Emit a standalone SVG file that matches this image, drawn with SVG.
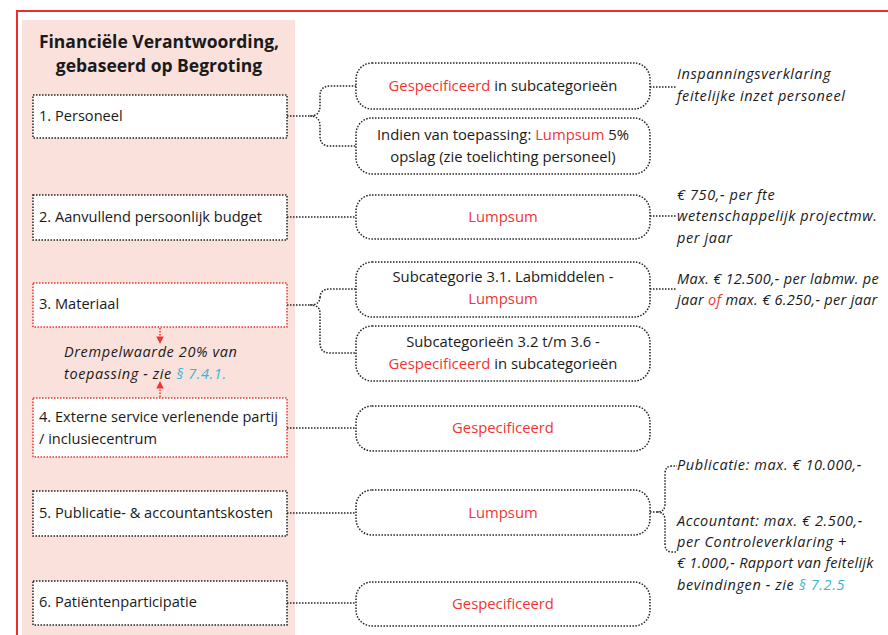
<svg xmlns="http://www.w3.org/2000/svg" width="888" height="635" viewBox="0 0 888 635">
  <defs>
    <style>
      text { font-family: "Open Sans", Lato, "Liberation Sans", sans-serif; fill: #1a1a1a; }
      .title { font-size: 17.5px; font-weight: 700; text-anchor: middle; }
      .lbl { font-size: 14.6px; }
      .mid { font-size: 14.8px; text-anchor: middle; }
      .note { font-size: 14.5px; font-style: italic; letter-spacing: 0.6px; }
      .tight { letter-spacing: 0.3px; }
      .red { fill: #ef3535; }
      .cyan { fill: #36b6d3; }
      .box { fill: #ffffff; stroke: #222; stroke-width: 1.5; stroke-dasharray: 1.5 1.5; }
      .box-red { fill: #ffffff; stroke: #ef3535; stroke-width: 1.5; stroke-dasharray: 1.5 1.5; }
      .pill { fill: #ffffff; stroke: #222; stroke-width: 1.5; stroke-dasharray: 1.5 1.5; }
      .wire { fill: none; stroke: #222; stroke-width: 1.5; stroke-dasharray: 1.5 1.5; }
      .wire-red { fill: none; stroke: #ef3535; stroke-width: 1.5; stroke-dasharray: 1.5 1.5; }
    </style>
    <marker id="redhead" viewBox="0 0 8 8" refX="7" refY="4" markerWidth="5" markerHeight="5" orient="auto">
      <path d="M0,0 L8,4 L0,8 z" fill="#ef3535"/>
    </marker>
  </defs>

  <rect width="888" height="635" fill="#ffffff"/>

  <!-- outer frame -->
  <path d="M17,640 V11 H890" fill="none" stroke="#ef2b2b" stroke-width="2"/>

  <!-- category column -->
  <rect x="22" y="20" width="273" height="620" fill="#fbe1db"/>
  <text class="title" x="159" y="48">Financiële Verantwoording,</text>
  <text class="title" x="159" y="72">gebaseerd op Begroting</text>

  <!-- connectors -->
  <g id="connectors">
    <path class="wire" d="M287,116 H310 Q320,116 320,106 V96 Q320,86 330,86 H356 M310,116 Q320,116 320,126 V136 Q320,146 330,146 H356"/>
    <path class="wire" d="M287,217 H356"/>
    <path class="wire" d="M287,305 H310 Q320,305 320,297 V298 Q320,289 330,289 H356 M310,305 Q320,305 320,313 V343 Q320,353 330,353 H356"/>
    <path class="wire" d="M287,428 H356"/>
    <path class="wire" d="M287,513 H356"/>
    <path class="wire" d="M287,603 H356"/>
    <path class="wire" d="M650,87 H677"/>
    <path class="wire" d="M650,216 H677"/>
    <path class="wire" d="M650,289 H677"/>
    <path class="wire" d="M650,512 H657 Q665,512 665,504 V474 Q665,466 672,466 H677 M657,512 Q665,512 665,520 V544 Q665,552 672,552 H677"/>
    <path class="wire-red" d="M160,328 V343" marker-end="url(#redhead)"/>
    <path class="wire-red" d="M160,397 V382" marker-end="url(#redhead)"/>
  </g>

  <!-- categories -->
  <g id="cat-personeel">
    <rect class="box" x="33" y="95" width="254" height="43"/>
    <text class="lbl" x="39" y="121">1. Personeel</text>
  </g>
  <g id="cat-budget">
    <rect class="box" x="33" y="195" width="254" height="45"/>
    <text class="lbl" x="39" y="222">2. Aanvullend persoonlijk budget</text>
  </g>
  <g id="cat-materiaal">
    <rect class="box-red" x="33" y="283" width="254" height="44"/>
    <text class="lbl" x="39" y="309">3. Materiaal</text>
  </g>
  <g id="drempel">
    <text class="note" x="64" y="357">Drempelwaarde 20% van</text>
    <text class="note" x="64" y="379">toepassing - zie <tspan class="cyan">§ 7.4.1.</tspan></text>
  </g>
  <g id="cat-extern">
    <rect class="box-red" x="33" y="398" width="254" height="59"/>
    <text class="lbl" x="39" y="422">4. Externe service verlenende partij</text>
    <text class="lbl" x="39" y="444">/ inclusiecentrum</text>
  </g>
  <g id="cat-publicatie">
    <rect class="box" x="33" y="491" width="254" height="45"/>
    <text class="lbl" x="39" y="518">5. Publicatie- &amp; accountantskosten</text>
  </g>
  <g id="cat-patient">
    <rect class="box" x="33" y="581" width="254" height="44"/>
    <text class="lbl" x="39" y="607">6. Patiëntenparticipatie</text>
  </g>

  <!-- accounting method -->
  <g id="m-personeel-spec">
    <rect class="pill" x="356" y="63" width="294" height="46" rx="16"/>
    <text class="mid" x="503" y="91"><tspan class="red">Gespecificeerd</tspan> in subcategorieën</text>
  </g>
  <g id="m-personeel-lump">
    <rect class="pill" x="356" y="118" width="294" height="56" rx="16"/>
    <text class="mid" x="503" y="140">Indien van toepassing: <tspan class="red">Lumpsum</tspan> 5%</text>
    <text class="mid" x="503" y="162">opslag (zie toelichting personeel)</text>
  </g>
  <g id="m-budget">
    <rect class="pill" x="356" y="195" width="294" height="44" rx="16"/>
    <text class="mid red" x="503" y="222">Lumpsum</text>
  </g>
  <g id="m-materiaal-lab">
    <rect class="pill" x="356" y="262" width="294" height="55" rx="16"/>
    <text class="mid" x="503" y="282">Subcategorie 3.1. Labmiddelen -</text>
    <text class="mid red" x="503" y="304">Lumpsum</text>
  </g>
  <g id="m-materiaal-spec">
    <rect class="pill" x="356" y="326" width="294" height="55" rx="16"/>
    <text class="mid" x="503" y="347">Subcategorieën 3.2 t/m 3.6 -</text>
    <text class="mid" x="503" y="369"><tspan class="red">Gespecificeerd</tspan> in subcategorieën</text>
  </g>
  <g id="m-extern">
    <rect class="pill" x="356" y="406" width="294" height="45" rx="16"/>
    <text class="mid red" x="503" y="433">Gespecificeerd</text>
  </g>
  <g id="m-publicatie">
    <rect class="pill" x="356" y="490" width="294" height="45" rx="16"/>
    <text class="mid red" x="503" y="518">Lumpsum</text>
  </g>
  <g id="m-patient">
    <rect class="pill" x="356" y="582" width="294" height="44" rx="16"/>
    <text class="mid red" x="503" y="609">Gespecificeerd</text>
  </g>

  <!-- notes -->
  <g id="n-personeel">
    <text class="note" x="677" y="79">Inspanningsverklaring</text>
    <text class="note" x="677" y="101">feitelijke inzet personeel</text>
  </g>
  <g id="n-budget">
    <text class="note" x="677" y="200">€ 750,- per fte</text>
    <text class="note" x="677" y="221">wetenschappelijk projectmw.</text>
    <text class="note" x="677" y="243">per jaar</text>
  </g>
  <g id="n-materiaal">
    <text class="note tight" x="677" y="284">Max. € 12.500,- per labmw. pe</text>
    <text class="note tight" x="677" y="305">jaar <tspan class="red">of</tspan> max. € 6.250,- per jaar</text>
  </g>
  <g id="n-publicatie">
    <text class="note" x="677" y="470">Publicatie: max. € 10.000,-</text>
    <text class="note" x="677" y="526">Accountant: max. € 2.500,-</text>
    <text class="note" x="677" y="547">per Controleverklaring +</text>
    <text class="note tight" x="677" y="568">€ 1.000,- Rapport van feitelijk</text>
    <text class="note" x="677" y="590">bevindingen - zie <tspan class="cyan">§ 7.2.5</tspan></text>
  </g>
</svg>
